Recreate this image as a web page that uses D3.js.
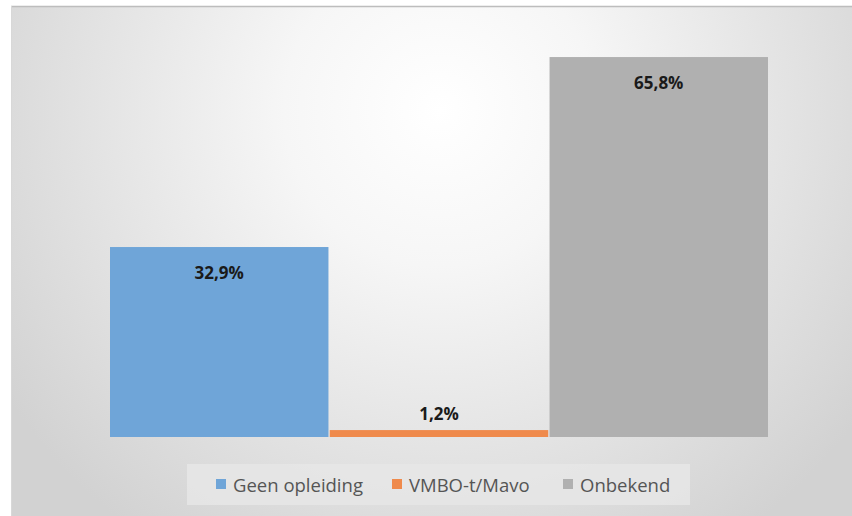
<!DOCTYPE html>
<html><head><meta charset="utf-8">
<script src="https://cdn.jsdelivr.net/npm/d3@7"></script>
<style>html,body{margin:0;padding:0;background:#fff;}svg{display:block;}</style>
</head><body>
<script>
const categories = ["Geen opleiding", "VMBO-t/Mavo", "Onbekend"];
const values = [32.9, 1.2, 65.8];
const labels = ["32,9%", "1,2%", "65,8%"];
const colors = ["#6fa5d8", "#ef8a4c", "#b0b0b0"];

const W = 852, H = 516;
const svg = d3.select("body").append("svg").attr("width", W).attr("height", H);
const defs = svg.append("defs");
const rg = defs.append("radialGradient").attr("id","bg").attr("gradientUnits","userSpaceOnUse")
  .attr("cx", 440).attr("cy", 110).attr("r", 520);
rg.append("stop").attr("offset","0%").attr("stop-color","#ffffff");
rg.append("stop").attr("offset","30%").attr("stop-color","#f6f6f6");
rg.append("stop").attr("offset","100%").attr("stop-color","#d2d2d2");

svg.append("rect").attr("x",11).attr("y",6).attr("width",W-11).attr("height",H-6).attr("fill","url(#bg)");
svg.append("line").attr("x1",11).attr("x2",W).attr("y1",6.5).attr("y2",6.5).attr("stroke","#bdbdbd").attr("stroke-width",1.5);
svg.append("line").attr("x1",11.5).attr("x2",11.5).attr("y1",6).attr("y2",H).attr("stroke","#d8d8d8").attr("stroke-width",1);

const x = d3.scaleBand().domain(categories).range([110, 768]).paddingInner(0.006).paddingOuter(0);
const y = d3.scaleLinear().domain([0, 70]).range([437, 32.8]);

svg.selectAll("rect.bar").data(values).enter().append("rect").attr("class","bar")
  .attr("x",(d,i)=>x(categories[i])).attr("width",x.bandwidth())
  .attr("y",d=>y(d)).attr("height",d=>y(0)-y(d)).attr("fill",(d,i)=>colors[i]);

svg.selectAll("text.lab").data(values).enter().append("text").attr("class","lab")
  .attr("x",(d,i)=>x(categories[i])+x.bandwidth()/2)
  .attr("y",d=> (y(0)-y(d) > 40) ? y(d)+32 : y(d)-10)
  .attr("text-anchor","middle").attr("font-family","'Open Sans', sans-serif").attr("font-weight","bold")
  .attr("font-size",17).attr("fill","#1a1a1a").text((d,i)=>labels[i]);

// legend
const lg = svg.append("g");
lg.append("rect").attr("x",187).attr("y",464).attr("width",503).attr("height",41).attr("fill","#e6e6e6").attr("opacity",0.85);
const legX = [216, 392, 563];
categories.forEach((c,i)=>{
  lg.append("rect").attr("x",legX[i]).attr("y",479).attr("width",10).attr("height",10).attr("fill",colors[i]);
  lg.append("text").attr("x",legX[i]+17).attr("y",492).attr("font-family","'Open Sans', sans-serif")
    .attr("font-size",18.5).attr("fill","#555555").text(c);
});
</script>
</body></html>
